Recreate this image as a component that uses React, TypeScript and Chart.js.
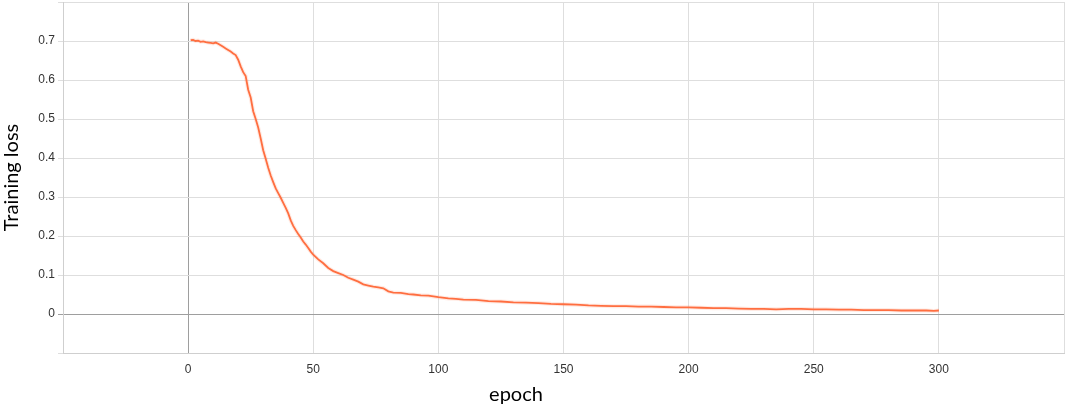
import React, { useEffect, useRef } from "react";
import { Chart, registerables } from "chart.js";

Chart.register(...registerables);

const epochs = [
  1, 2, 3, 4, 5, 6, 7, 8, 9, 10, 11, 12, 13, 14, 15, 16, 17, 18, 19, 20,
  21, 22, 23, 24, 25, 26, 27, 28, 29, 30, 31, 32, 33, 34, 35, 36, 37, 38, 39, 40,
  41, 42, 43, 44, 45, 46, 47, 48, 49, 50, 52, 54, 56, 58, 60, 62, 64, 66, 68, 70,
  72, 74, 76, 78, 80, 82, 85, 88, 90, 93, 96, 100, 104, 107, 110, 115, 120, 125, 130, 135,
  140, 145, 150, 155, 160, 165, 170, 175, 180, 185, 190, 195, 200, 205, 210, 215, 220, 225, 230, 235,
  240, 245, 250, 255, 260, 265, 270, 275, 280, 285, 290, 295, 298, 300,
];

const trainingLoss = [
  0.702, 0.703, 0.7, 0.701, 0.698, 0.699, 0.697, 0.696, 0.695, 0.694, 0.696, 0.693, 0.689, 0.685, 0.681, 0.677, 0.673, 0.668, 0.664, 0.652,
  0.635, 0.62, 0.61, 0.575, 0.555, 0.52, 0.5, 0.478, 0.45, 0.42, 0.398, 0.375, 0.355, 0.338, 0.322, 0.31, 0.298, 0.285, 0.272, 0.258,
  0.24, 0.226, 0.215, 0.205, 0.196, 0.186, 0.178, 0.169, 0.16, 0.152, 0.14, 0.13, 0.118, 0.11, 0.105, 0.1, 0.093, 0.088, 0.083, 0.076,
  0.073, 0.07, 0.068, 0.066, 0.058, 0.055, 0.054, 0.051, 0.05, 0.048, 0.047, 0.043, 0.04, 0.039, 0.037, 0.036, 0.033, 0.032, 0.03, 0.029,
  0.028, 0.026, 0.025, 0.024, 0.022, 0.021, 0.02, 0.02, 0.019, 0.019, 0.018, 0.017, 0.017, 0.016, 0.015, 0.015, 0.014, 0.013, 0.013, 0.012,
  0.013, 0.013, 0.012, 0.012, 0.011, 0.011, 0.01, 0.01, 0.01, 0.009, 0.009, 0.009, 0.008, 0.009,
];

const xTitle = "epoch";
const yTitle = "Training loss";
const xMin = -50;
const xMax = 350;
const yMin = -0.1;
const yMax = 0.8;

const xTitlePlugin = {
  id: "xTitleOffset",
  afterDraw(chart: any) {
    const ctx = chart.ctx;
    ctx.save();
    ctx.font = "20px Lato";
    ctx.fillStyle = "#000";
    ctx.textAlign = "center";
    ctx.textBaseline = "middle";
    ctx.fillText(xTitle, 516, 395);
    ctx.restore();
  },
};

export default function App() {
  const ref = useRef<HTMLCanvasElement | null>(null);

  useEffect(() => {
    if (!ref.current) return;
    const points = epochs.map((e, i) => ({ x: e, y: trainingLoss[i] }));
    const chart = new Chart(ref.current, {
      type: "line",
      data: {
        datasets: [
          {
            data: points,
            borderColor: "rgba(255,112,67,0.15)",
            borderWidth: 4,
            pointRadius: 0,
            tension: 0,
          },
          {
            data: points,
            borderColor: "#ff6e40",
            borderWidth: 1.8,
            pointRadius: 0,
            tension: 0,
          },
        ],
      },
      plugins: [xTitlePlugin],
      options: {
        animation: false,
        responsive: true,
        maintainAspectRatio: false,
        layout: { padding: { top: 2, right: 1, left: 0, bottom: 0 } },
        plugins: { legend: { display: false }, tooltip: { enabled: false } },
        scales: {
          x: {
            type: "linear",
            min: xMin,
            max: xMax,
            afterFit: (s: any) => {
              s.height = 52;
              s.paddingLeft = 0;
              s.paddingRight = 0;
            },
            ticks: {
              stepSize: 50,
              padding: 9,
              color: "#333",
              font: { family: "Liberation Sans", size: 12 },
              maxRotation: 0,
              callback: (v: any) => (v === xMin || v === xMax ? "" : String(v)),
            },
            grid: {
              drawTicks: false,
              color: (c: any) => (c.tick && c.tick.value === 0 ? "#9e9e9e" : "#dedede"),
              lineWidth: 1,
            },
            border: { color: "#cfcfcf" },
            title: { display: false },
          },
          y: {
            type: "linear",
            min: yMin,
            max: yMax,
            afterFit: (s: any) => {
              s.width = 63;
              s.paddingTop = 0;
              s.paddingBottom = 0;
            },
            ticks: {
              stepSize: 0.1,
              padding: 3,
              color: "#333",
              font: { family: "Liberation Sans", size: 12 },
              callback: (v: any) => {
                const r = Math.round(v * 10) / 10;
                if (r <= yMin + 1e-9 || r >= yMax - 1e-9) return "";
                return String(r);
              },
            },
            grid: {
              tickLength: 5,
              color: (c: any) =>
                c.tick && Math.abs(c.tick.value) < 1e-9 ? "#9e9e9e" : "#dedede",
              lineWidth: 1,
            },
            border: { color: "#cfcfcf" },
            title: {
              display: true,
              text: yTitle,
              color: "#000",
              font: { family: "Lato", size: 20 },
              padding: { top: 0, bottom: 0 },
            },
          },
        },
      },
    });
    return () => chart.destroy();
  }, []);

  return (
    <div style={{ position: "absolute", left: 0, top: 0, width: 1065, height: 405, background: "#fff" }}>
      <canvas ref={ref} />
    </div>
  );
}
